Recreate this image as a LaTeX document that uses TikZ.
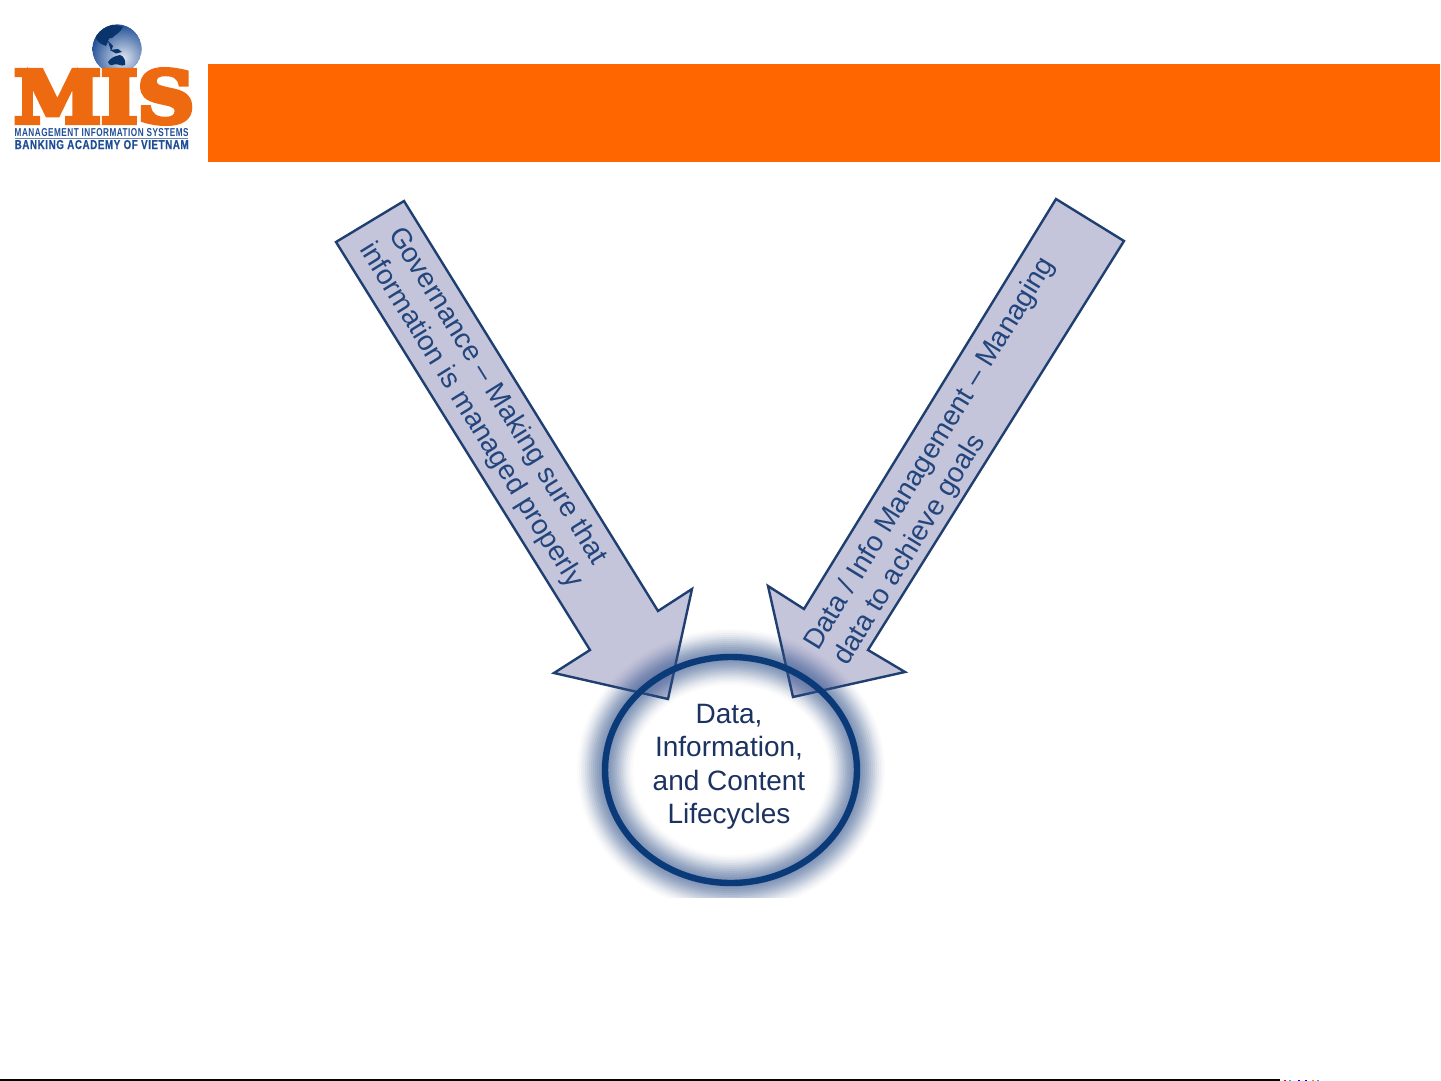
\documentclass[tikz,border=0pt]{standalone}
\usepackage{fontspec}
\usepackage{graphicx}
\setmainfont{Liberation Sans}
\newfontfamily\slabfont[FakeBold=7]{DejaVu Serif Bold}
\newfontfamily\logofont[LetterSpace=6]{Liberation Sans Bold}
\newfontfamily\logofontb[FakeBold=0.6,LetterSpace=6]{Liberation Sans Bold}
\definecolor{bannerorange}{HTML}{FF6600}
\definecolor{logoorange}{HTML}{EE6A10}
\definecolor{arrowfill}{HTML}{C4C4DA}
\definecolor{arrowline}{HTML}{1F3F70}
\definecolor{inktext}{HTML}{1C3260}
\definecolor{arrowink}{HTML}{22457C}
\definecolor{ringblue}{HTML}{0B3A78}
\definecolor{glowblue}{HTML}{34548F}
\definecolor{logoblue}{HTML}{1F4E96}
\tikzset{
  bigarrow/.style={draw=arrowline,fill=arrowfill,line width=2.4pt,line join=miter},
  arrowtext/.style={text=arrowink,font=\fontsize{28}{30}\selectfont,inner sep=0pt,anchor=base west},
  centertext/.style={text=inktext,font=\fontsize{28}{33.5}\selectfont,align=center,inner sep=0pt},
  logoline/.style={text=logoblue,inner sep=0pt,anchor=base west},
  continent/.style={fill=ringblue!90!black,draw=none}
}
\begin{document}
\begin{tikzpicture}[x=1pt,y=-1pt]
\useasboundingbox (0,0) rectangle (1441,1081);
\fill[white] (0,0) rectangle (1441,1081);
% banner
\path[fill=bannerorange] (208,64) rectangle (1440,162);
% logo globe
\begin{scope}
\clip (117,49) circle (24.5);
\fill[logoblue] (117,49) circle (24.5);
\shade[inner color=white!85!logoblue,outer color=logoblue] (123,58) circle (34);
\fill[continent] (95,36) .. controls (100,24) and (112,23) .. (123,27) .. controls (120,33) and (116,34) .. (112,38) .. controls (107,37) and (109,42) .. (106,46) .. controls (102,44) and (98,44) .. (95,36);
\fill[continent] (108,41) -- (113,46) -- (111,51) -- cycle;
\fill[continent] (110,50) -- (118,49) -- (122,52) -- (116,53.5) -- cycle;
\fill[continent] (108,62) .. controls (111,57) and (116,56) .. (120,55) .. controls (124,56) and (126,61) .. (125,65) .. controls (121,67) and (118,63) .. (114,64.5) .. controls (111,66) and (109,65) .. (108,62);
\end{scope}
% logo text
\node[inner sep=0pt,anchor=base west,text=logoorange] (mis) at (14,122.5) {\resizebox{180pt}{53pt}{\slabfont MIS}};
\node[logoline] (logoa) at (14.5,136) {\resizebox{174pt}{8pt}{\logofont MANAGEMENT INFORMATION SYSTEMS}};
\draw[logoblue!70,line width=0.8pt] (14.5,138.2) -- (188,138.2);
\node[logoline] (logob) at (14.5,149) {\resizebox{174pt}{9pt}{\logofontb BANKING ACADEMY OF VIETNAM}};
% arrows
\path[bigarrow] (404,201) -- (658,611) -- (692,589) -- (668,699) -- (554,673) -- (590,650) -- (336,242) -- cycle;
\path[bigarrow] (1056,199) -- (1124,241) -- (868,650) -- (905,672) -- (793,697) -- (768,586) -- (804,609) -- cycle;
\node[arrowtext,rotate=-58.2] (gova) at (388,234) {Governance – Making sure that};
\node[arrowtext,rotate=-58.2] (govb) at (359,249) {information is managed properly};
\node[arrowtext,rotate=58.6] (dataa) at (818,652) {Data / Info Management – Managing};
\node[arrowtext,rotate=58.5] (datab) at (847,667) {data to achieve goals};
% glow
\begin{scope}
\clip (560,620) rectangle (900,897);
\foreach \w/\o in {56/0.02,52/0.03,48/0.04,44/0.05,40/0.06,36/0.08,32/0.08,28/0.09,24/0.09,20/0.09,16/0.09,12/0.09,8/0.09}{
  \draw[glowblue,opacity=\o,line width=\w pt] (731,770) ellipse (126 and 113);
}
\end{scope}
% ring
\draw[ringblue,line width=6.4pt] (731,770) ellipse (126 and 113);
\node[centertext] (core) at (729,767) {Data,\\Information,\\and Content\\Lifecycles};
% bottom rule
\draw[black,line width=1.6pt] (0,1080.2) -- (1280,1080.2);
\foreach \x/\c in {1284/red,1289/cyan,1298/blue,1305/blue,1312/orange,1317/cyan}{
  \fill[\c] (\x,1079.5) rectangle +(1.6,1.5);
}
\end{tikzpicture}
\end{document}
